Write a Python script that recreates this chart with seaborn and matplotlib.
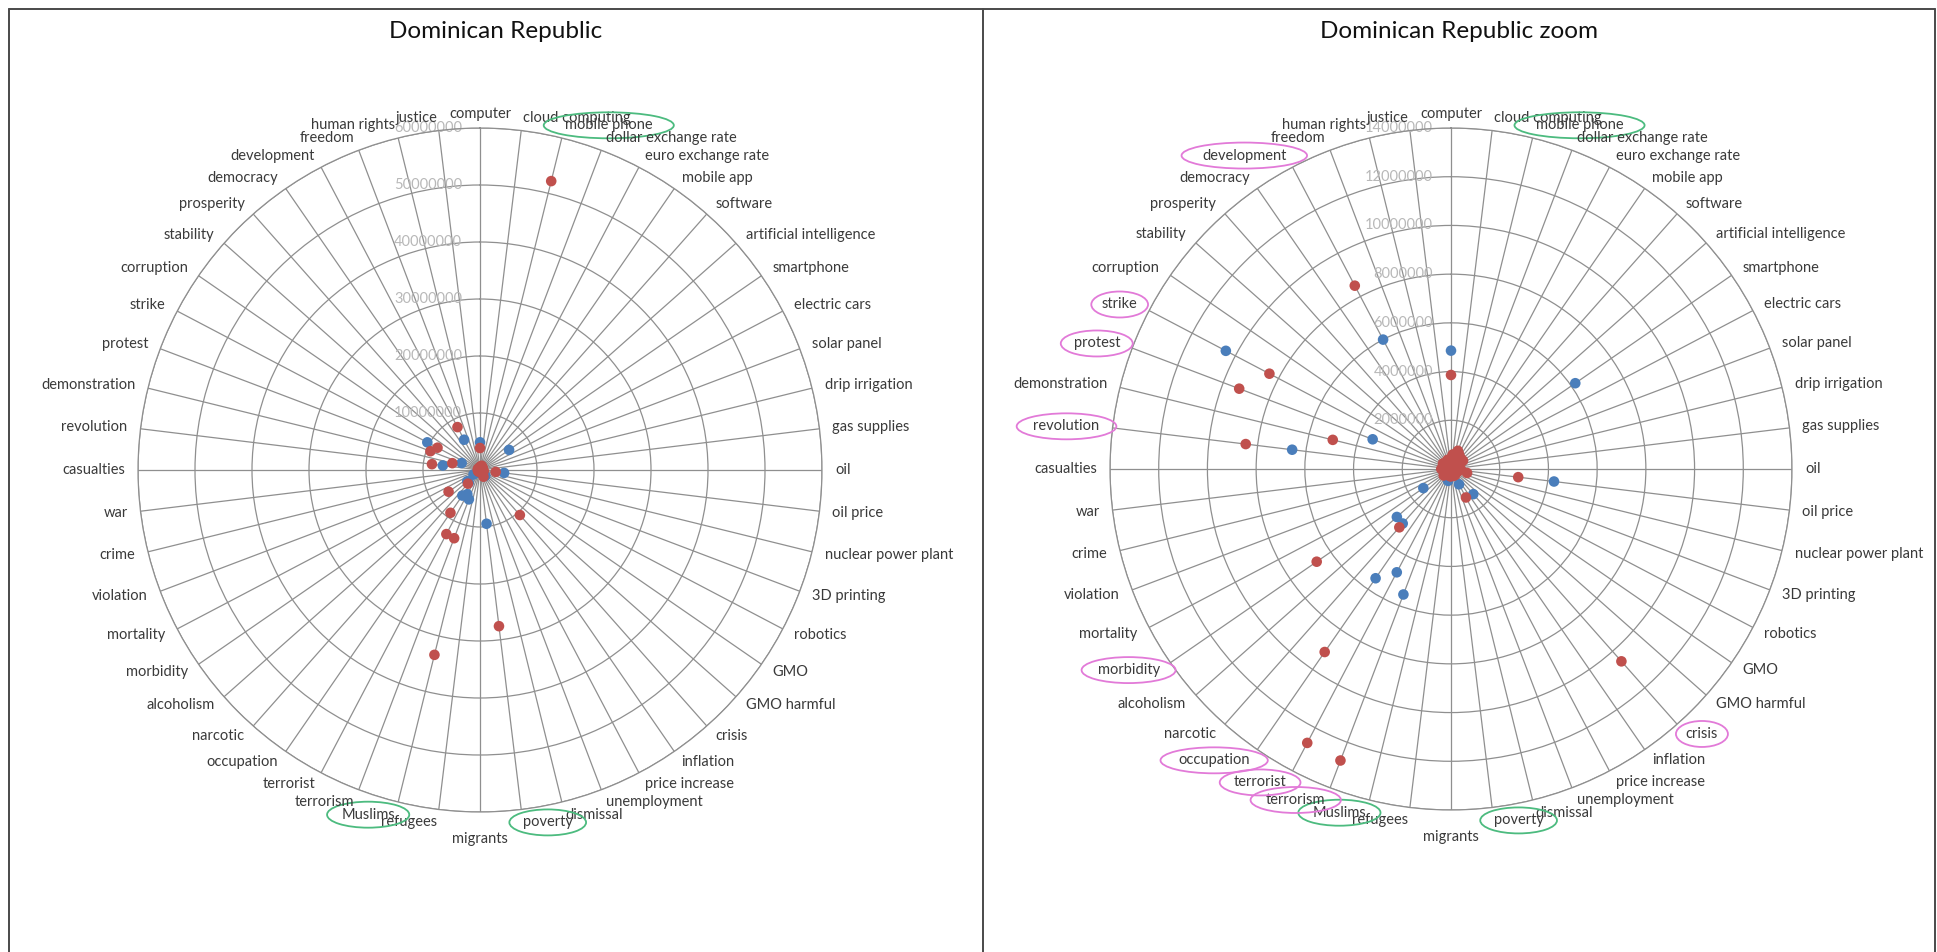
import numpy as np
import pandas as pd
import matplotlib
matplotlib.use("Agg")
import matplotlib.pyplot as plt
import seaborn as sns
from matplotlib.lines import Line2D

# categories clockwise from the top
categories = [
    "computer", "cloud computing", "mobile phone", "dollar exchange rate",
    "euro exchange rate", "mobile app", "software", "artificial intelligence",
    "smartphone", "electric cars", "solar panel", "drip irrigation",
    "gas supplies", "oil", "oil price", "nuclear power plant", "3D printing",
    "robotics", "GMO", "GMO harmful", "crisis", "inflation", "price increase",
    "unemployment", "dismissal", "poverty", "migrants", "refugees", "Muslims",
    "terrorism", "terrorist", "occupation", "narcotic", "alcoholism",
    "morbidity", "mortality", "violation", "crime", "war", "casualties",
    "revolution", "demonstration", "protest", "strike", "corruption",
    "stability", "prosperity", "democracy", "development", "freedom",
    "human rights", "justice",
]

# values in millions
red_mln = [
    3.86, 0.6, 52.2, 0.8, 0.7, 0.5, 0.6, 0.4, 0.6, 0.3, 0.2, 0.1, 0.3,
    0.4, 2.78, 0.68, 0.3, 0.2, 0.1, 0.05, 10.55, 0.3, 1.32, 0.3, 0.2, 27.6,
    0.3, 0.3, 33.4, 12.8, 12.7, 9.13, 3.2, 0.4, 6.7, 0.3, 0.2, 0.3, 0.3,
    0.4, 8.49, 5.0, 9.3, 8.42, 0.4, 0.3, 0.3, 0.3, 8.5, 0.4, 0.3, 0.4,
]
blue_mln = [
    4.86, 0.2, 0.3, 0.1, 0.1, 0.2, 0.3, 0.1, 6.2, 0.1, 0.05, 0.05, 0.1,
    0.2, 4.26, 0.1, 0.05, 0.1, 0.05, 0.02, 1.38, 0.2, 0.71, 0.2, 0.1, 9.5,
    0.2, 0.2, 0.5, 5.51, 4.79, 5.45, 2.99, 2.97, 1.38, 0.3, 0.2, 0.2, 0.2,
    0.2, 6.57, 0.3, 3.44, 10.44, 0.2, 0.2, 0.2, 0.2, 6.0, 0.3, 0.2, 0.2,
]
zoom_hidden_blue = ["poverty"]

green_marks = ["mobile phone", "Muslims", "poverty"]
pink_marks = ["development", "strike", "protest", "revolution", "morbidity",
              "occupation", "terrorist", "terrorism", "crisis"]

W, H, DPI = 1937, 952, 100
RED, BLUE = "#c0504d", "#4a7ebb"
GRID = "#8f8f8f"
GREEN_MARK, PINK_MARK = "#4cbb7f", "#e27ad8"

sns.set_theme(style="white")
plt.rcParams["font.family"] = ["Lato", "DejaVu Sans"]

fig = plt.figure(figsize=(W / DPI, H / DPI), dpi=DPI)
fig.patch.set_facecolor("white")

n = len(categories)
theta = np.arange(n) * 2 * np.pi / n

df_all = pd.concat([
    pd.DataFrame({"category": categories, "theta": theta,
                  "value": np.array(blue_mln) * 1e6, "series": "blue"}),
    pd.DataFrame({"category": categories, "theta": theta,
                  "value": np.array(red_mln) * 1e6, "series": "red"}),
], ignore_index=True)


def draw_radar(cx, cy, r_px, rmax, step, marks, zoom=False):
    ax = fig.add_axes([(cx - r_px) / W, (H - cy - r_px) / H, 2 * r_px / W, 2 * r_px / H],
                      projection="polar")
    ax.set_theta_zero_location("N")
    ax.set_theta_direction(-1)

    df = df_all[df_all["value"] <= rmax]
    if zoom:
        df = df[~((df["series"] == "blue") & df["category"].isin(zoom_hidden_blue))]
    sns.scatterplot(data=df, x="theta", y="value", hue="series",
                    palette={"red": RED, "blue": BLUE}, s=58, linewidth=0,
                    legend=False, ax=ax, zorder=3)

    ax.set_ylim(0, rmax)
    ax.set_xticks(theta)
    ax.set_xticklabels([])
    ax.set_yticks(np.arange(step, rmax + step / 2, step))
    ax.set_yticklabels([])
    ax.grid(True, color=GRID, lw=0.9)
    ax.spines["polar"].set_color(GRID)
    ax.spines["polar"].set_linewidth(0.9)
    ax.set_xlabel("")
    ax.set_ylabel("")
    ax.set_axisbelow(True)

    # ring values along the top spoke
    for v in np.arange(step, rmax + step / 2, step):
        ax.annotate(f"{int(v)}", xy=(0, v), xytext=(-18, 0), textcoords="offset pixels",
                    ha="right", va="center", fontsize=10.5, color="#b8b8b8",
                    annotation_clip=False, zorder=2)

    # category labels around the outside
    for t, name in zip(theta, categories):
        s, c = np.sin(t), np.cos(t)
        if abs(s) < 1e-6:
            ha = "center"
            if c > 0:
                va, off = "center", (0, 14)
            else:
                va, off = "top", (0, -20)
        else:
            ha = "left" if s > 0 else "right"
            va = "center"
            off = (13 * s, 13 * c)
        bbox = None
        if name in green_marks:
            bbox = dict(boxstyle="ellipse,pad=0.15", fc="none", ec=GREEN_MARK, lw=1.3)
        elif zoom and name in pink_marks:
            bbox = dict(boxstyle="ellipse,pad=0.15", fc="none", ec=PINK_MARK, lw=1.3)
        ax.annotate(name, xy=(t, rmax), xytext=off, textcoords="offset pixels",
                    ha=ha, va=va, fontsize=10.5, color="#3a3a3a",
                    annotation_clip=False, bbox=bbox)
    return ax


draw_radar(480, 470, 342, 60e6, 10e6, green_marks)
draw_radar(1451, 469, 341, 14e6, 2e6, green_marks + pink_marks, zoom=True)

# titles
fig.text(496 / W, 1 - 31 / H, "Dominican Republic", ha="center", va="center",
         fontsize=17.5, color="#111111")
fig.text(1459 / W, 1 - 31 / H, "Dominican Republic zoom", ha="center", va="center",
         fontsize=17.5, color="#111111")

# table border of the source document
for (x0, y0, x1, y1) in [(9, 9, 1935, 9), (9, 9, 9, 952), (983, 9, 983, 952),
                         (1935, 9, 1935, 952)]:
    fig.add_artist(Line2D([x0 / W, x1 / W], [1 - y0 / H, 1 - y1 / H],
                          transform=fig.transFigure, color="#4a4a4a", lw=1.4))

fig.savefig("out.png", dpi=DPI)
